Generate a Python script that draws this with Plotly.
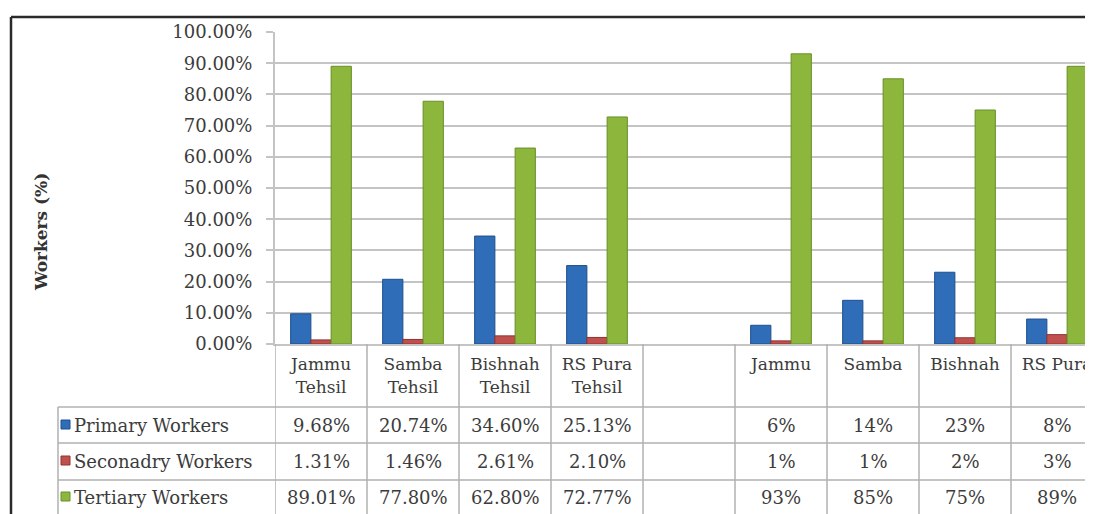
import plotly.graph_objects as go

# ---------------- data ----------------
tick_labels = ["Jammu<br>Tehsil", "Samba<br>Tehsil", "Bishnah<br>Tehsil", "RS Pura<br>Tehsil",
               "", "Jammu", "Samba", "Bishnah", "RS Pura"]
decimals = [2, 2, 2, 2, None, 0, 0, 0, 0]
series_names = ["Primary Workers", "Seconadry Workers", "Tertiary Workers"]
primary = [9.68, 20.74, 34.60, 25.13, None, 6, 14, 23, 8]
secondary = [1.31, 1.46, 2.61, 2.10, None, 1, 1, 2, 3]
tertiary = [89.01, 77.80, 62.80, 72.77, None, 93, 85, 75, 89]
y_ticks = [0, 10, 20, 30, 40, 50, 60, 70, 80, 90, 100]

# ---------------- style ----------------
OFF = 8                      # page body margin of the browser
W, H = 1093 - OFF, 514 - OFF
L, R, T = 275 - OFF, 0, 32 - OFF
B = H - (344 - OFF)
PW, PH = W - L - R, H - T - B
FONT = "DejaVu Serif"
TXT = "#3c3c3c"
GRID = "#c4c4c4"
fills = ["#2F6DB8", "#C0504D", "#8CB63C"]
edges = ["#1E4F8E", "#8E3431", "#6A8F28"]


def px(xr):
    # reference-window pixel x -> paper x
    return (xr - OFF - L) / PW


def py(yr):
    # reference-window pixel y -> paper y
    return (H - B - (yr - OFF)) / PH


series = [primary, secondary, tertiary]
x_idx = list(range(len(tick_labels)))

fig = go.Figure()
for name, vals, fc, ec in zip(series_names, series, fills, edges):
    fig.add_trace(go.Bar(x=x_idx, y=vals, name=name,
                         marker=dict(color=fc, line=dict(color=ec, width=1)),
                         showlegend=False))

shapes = []
annotations = []

# outer frame (top & left edges visible)
shapes.append(dict(type="line", xref="paper", yref="paper", x0=px(11), x1=px(1100),
                   y0=py(17), y1=py(17), line=dict(color="#2a2a2a", width=2.5)))
shapes.append(dict(type="line", xref="paper", yref="paper", x0=px(11), x1=px(11),
                   y0=py(17), y1=py(520), line=dict(color="#2a2a2a", width=2.5)))

# data table grid
row_lines = [407, 443, 480]
for yl in row_lines:
    shapes.append(dict(type="line", xref="paper", yref="paper", x0=px(58), x1=px(1100),
                       y0=py(yl), y1=py(yl), line=dict(color="#b0b0b0", width=1.5)))
shapes.append(dict(type="line", xref="paper", yref="paper", x0=px(58), x1=px(58),
                   y0=py(407), y1=py(520), line=dict(color="#b0b0b0", width=1.5)))
for k in range(len(tick_labels)):
    shapes.append(dict(type="line", xref="x", yref="paper", x0=k - 0.5, x1=k - 0.5,
                       y0=0, y1=py(520), line=dict(color="#b0b0b0", width=1.5)))

# rows: legend key, row label, values
row_centers = [425, 461, 497]
for name, vals, fc, ec, yc in zip(series_names, series, fills, edges, row_centers):
    shapes.append(dict(type="rect", xref="paper", yref="paper",
                       x0=px(61), x1=px(70), y0=py(yc - 5), y1=py(yc + 4),
                       fillcolor=fc, line=dict(color=ec, width=1)))
    annotations.append(dict(xref="paper", yref="paper", x=px(72), y=py(yc),
                            text=name, showarrow=False, xanchor="left", yanchor="middle",
                            font=dict(family=FONT, size=18, color=TXT)))
    for k, (v, d) in enumerate(zip(vals, decimals)):
        if v is None:
            continue
        annotations.append(dict(xref="x", yref="paper", x=k, y=py(yc),
                                text=f"{v:.{d}f}%", showarrow=False,
                                xanchor="center", yanchor="middle",
                                font=dict(family=FONT, size=18, color=TXT)))

# y-axis title
annotations.append(dict(xref="paper", yref="paper", x=px(41), y=py(232),
                        text="<b>Workers (%)</b>", textangle=-90, showarrow=False,
                        xanchor="center", yanchor="middle",
                        font=dict(family=FONT, size=17, color="#333333")))

fig.update_layout(
    width=W, height=H,
    margin=dict(l=L, r=R, t=T, b=B, pad=0),
    paper_bgcolor="white", plot_bgcolor="white",
    barmode="group", bargap=0.34, bargroupgap=0,
    font=dict(family=FONT, size=18, color=TXT),
    shapes=shapes, annotations=annotations,
    xaxis=dict(range=[-0.5, -0.5 + PW / 92.0], tickvals=x_idx, ticktext=tick_labels,
               showgrid=False, zeroline=False, showline=True, linecolor=GRID, linewidth=2,
               ticks="", tickfont=dict(family=FONT, size=17, color=TXT), ticklabelstandoff=4),
    yaxis=dict(range=[0, 100], tickvals=y_ticks, ticktext=[f"{v:.2f}%" for v in y_ticks],
               showgrid=True, gridcolor=GRID, gridwidth=2, zeroline=False,
               showline=True, linecolor=GRID, linewidth=2,
               ticks="outside", ticklen=7, tickcolor=GRID, tickwidth=2,
               tickfont=dict(family=FONT, size=18, color=TXT), ticklabelstandoff=10),
)

fig.write_html("out.html")
